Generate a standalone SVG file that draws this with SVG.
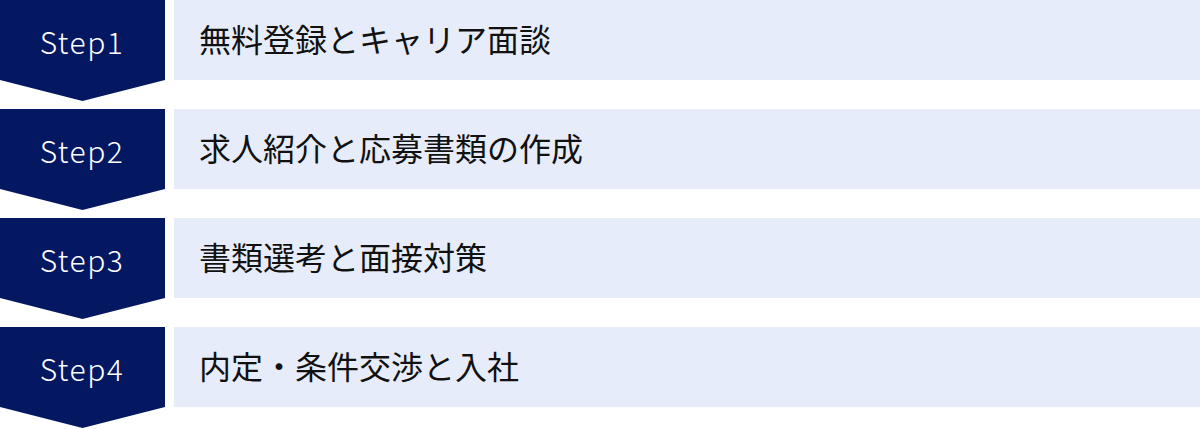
<svg xmlns="http://www.w3.org/2000/svg" width="1200" height="429" viewBox="0 0 1200 429">
<style>
.badge{fill:#041862}
.bar{fill:#E6ECF9}
.step{font-family:"Noto Sans CJK JP","Noto Sans",sans-serif;font-size:30px;font-weight:300;fill:#ffffff;text-anchor:middle;letter-spacing:1.5px}
.label{font-family:"Noto Sans CJK JP","Noto Sans CJK SC",sans-serif;font-size:32px;font-weight:400;fill:#111111}
</style>
<rect width="1200" height="429" fill="#ffffff"/>
<g id="step1">
<rect class="bar" x="174" y="0" width="1026" height="80"/>
<polygon class="badge" points="0,0 165,0 165,80 82.5,101 0,80"/>
<text class="step" x="82" y="54">Step1</text>
<text class="label" x="199" y="52">無料登録とキャリア面談</text>
</g>
<g id="step2">
<rect class="bar" x="174" y="109" width="1026" height="80"/>
<polygon class="badge" points="0,109 165,109 165,189 82.5,210 0,189"/>
<text class="step" x="82" y="163">Step2</text>
<text class="label" x="199" y="161">求人紹介と応募書類の作成</text>
</g>
<g id="step3">
<rect class="bar" x="174" y="218" width="1026" height="80"/>
<polygon class="badge" points="0,218 165,218 165,298 82.5,319 0,298"/>
<text class="step" x="82" y="272">Step3</text>
<text class="label" x="199" y="270">書類選考と面接対策</text>
</g>
<g id="step4">
<rect class="bar" x="174" y="327" width="1026" height="80"/>
<polygon class="badge" points="0,327 165,327 165,407 82.5,428 0,407"/>
<text class="step" x="82" y="381">Step4</text>
<text class="label" x="199" y="379">内定・条件交渉と入社</text>
</g>
<g id="connectors"></g>
</svg>
